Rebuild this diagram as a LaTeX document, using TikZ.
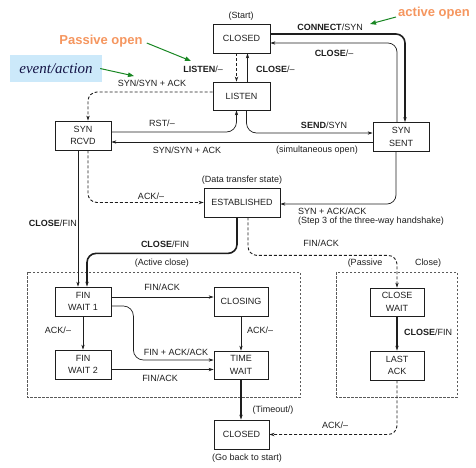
\documentclass[tikz,border=0pt]{standalone}
\usepackage{fontspec}
\setmainfont{Liberation Sans}
\newfontfamily\serifit{Liberation Serif}
\usetikzlibrary{arrows.meta}
\definecolor{ink}{RGB}{30,30,30}
\definecolor{orangetxt}{RGB}{245,150,95}
\definecolor{greenarr}{RGB}{25,135,35}
\definecolor{bluebg}{RGB}{204,233,250}
\definecolor{navy}{RGB}{20,20,70}
\definecolor{boxgray}{RGB}{90,90,90}
\begin{document}
\begin{tikzpicture}[x=1pt,y=-1pt,
  state/.style={draw=ink, line width=0.8pt, minimum width=56pt, minimum height=29pt, inner sep=1pt, align=center, font=\fontsize{9}{12.5}\selectfont, text=ink},
  lbl/.style={font=\fontsize{9}{10}\selectfont, text=ink, inner sep=0pt},
  tr/.style={draw=ink, line width=0.7pt, -{Stealth[length=5pt,width=3.4pt]}},
  trk/.style={tr, line width=1.6pt},
  dsh/.style={tr, line width=0.9pt, dash pattern=on 3pt off 2pt},
  group/.style={draw=boxgray, line width=0.6pt, dash pattern=on 2.5pt off 1.5pt},
  greenar/.style={draw=greenarr, line width=1pt, -{Triangle[length=6pt,width=4.5pt]}},
  callout/.style={font=\bfseries\fontsize{13}{14}\selectfont, text=orangetxt, inner sep=0pt}
]
\useasboundingbox (0,0) rectangle (476,467);

% group boxes
\draw[group] (27,272) rectangle (300,397);
\draw[group] (336,272) rectangle (457,397);

% states
\node[state, minimum width=57pt] (closedt) at (241.5,38.5) {CLOSED};
\node[state, minimum width=57pt, minimum height=28pt] (listen) at (241.5,96) {LISTEN};
\node[state] (synrcvd) at (83,135.5) {SYN\\RCVD};
\node[state] (synsent) at (401,137) {SYN\\SENT};
\node[state, minimum width=76pt] (estab) at (242,202.5) {ESTABLISHED};
\node[state] (finwait1) at (83,301.5) {FIN\\WAIT 1};
\node[state, minimum width=54pt] (closing) at (241,301.5) {CLOSING};
\node[state] (finwait2) at (83,364.5) {FIN\\WAIT 2};
\node[state, minimum width=54pt, minimum height=28pt] (timewait) at (241,365) {TIME\\WAIT};
\node[state, minimum width=55pt] (closedb) at (241.5,434.5) {CLOSED};
\node[state, minimum width=54pt, minimum height=28pt] (closewait) at (397,302) {CLOSE\\WAIT};
\node[state, minimum width=54pt] (lastack) at (397,365.5) {LAST\\ACK};

% transitions
\draw[trk, rounded corners=9pt] ([yshift=4.5pt]closedt.east) -| ([xshift=4pt]synsent.north);
\draw[tr, rounded corners=9pt] ([xshift=-4pt]synsent.north) |- ([yshift=-4.5pt]closedt.east);
\draw[dsh] ([xshift=-5pt]closedt.south) -- ([xshift=-5pt]listen.north);
\draw[tr] ([xshift=6pt]listen.north) -- ([xshift=6pt]closedt.south);
\draw[dsh, rounded corners=9pt] ([yshift=4pt]listen.west) -| ([xshift=5pt]synrcvd.north);
\draw[tr, rounded corners=10pt] ([yshift=3.5pt]synrcvd.east) -| ([xshift=-5pt]listen.south);
\draw[tr, rounded corners=10pt] ([xshift=5pt]listen.south) |- ([yshift=4pt]synsent.west);
\draw[tr] ([yshift=-5pt]synsent.west) -- ([yshift=-5pt]synsent.west -| synrcvd.east);
\draw[dsh, rounded corners=9pt] ([xshift=5pt]synrcvd.south) |- (estab.west);
\draw[tr, rounded corners=9pt] ([xshift=-5pt]synsent.south) |- ([yshift=-1.5pt]estab.east);
\draw[tr] ([xshift=-5pt]synrcvd.south) -- ([xshift=-5pt]finwait1.north);
\draw[trk, rounded corners=9pt] ([xshift=-5pt]estab.south) -- ++(0,36) -| ([xshift=4pt]finwait1.north);
\draw[dsh, rounded corners=9pt] ([xshift=6pt]estab.south) -- ++(0,38) -| (closewait.north);
\draw[trk] (closewait.south) -- (lastack.north);
\draw[dsh, rounded corners=9pt] (lastack.south) |- (closedb.east);
\draw[tr] ([yshift=4.5pt]finwait1.east) -- ([yshift=4.5pt]finwait1.east -| closing.west);
\draw[tr, rounded corners=10pt] ([yshift=-4.5pt]finwait1.east) -- ++(22,0) |- ([yshift=5pt]timewait.west);
\draw[tr] (closing.south) -- (closing.south |- timewait.north);
\draw[tr] (finwait1.south) -- (finwait2.north);
\draw[trk] ([yshift=-5pt]finwait2.east) -- ([yshift=-5pt]finwait2.east -| timewait.west);
\draw[trk] (timewait.south) -- (timewait.south |- closedb.north);

% labels
\node[lbl] (lstart) at (241,16) {(Start)};
\node[lbl] (lconnect) at (330,27) {\textbf{CONNECT}/SYN};
\node[lbl] (lclose1) at (334,53) {\textbf{CLOSE}/--};
\node[lbl, anchor=east] (llisten) at (223,69) {\textbf{LISTEN}/--};
\node[lbl, anchor=west] (lclose2) at (256,69) {\textbf{CLOSE}/--};
\node[lbl] (lsynsyn1) at (152,83) {SYN/SYN + ACK};
\node[lbl] (lrst) at (162,123) {RST/--};
\node[lbl] (lsend) at (324,125) {\textbf{SEND}/SYN};
\node[lbl] (lsynsyn2) at (187,150.5) {SYN/SYN + ACK};
\node[lbl] (lsimul) at (317,150.5) {(simultaneous open)};
\node[lbl] (ldata) at (242,180) {(Data transfer state)};
\node[lbl] (lack1) at (151,196) {ACK/--};
\node[lbl, anchor=west] (lsynack) at (298,211) {SYN + ACK/ACK};
\node[lbl, anchor=west] (lstep) at (298,221) {(Step 3 of the three-way handshake)};
\node[lbl, anchor=east] (lclosefin1) at (77,223) {\textbf{CLOSE}/FIN};
\node[lbl] (lclosefin2) at (165,244) {\textbf{CLOSE}/FIN};
\node[lbl] (lactive) at (162,263) {(Active close)};
\node[lbl] (lfinack1) at (321,243) {FIN/ACK};
\node[lbl] (lpassive) at (365,263) {(Passive};
\node[lbl] (lpclose) at (428,263) {Close)};
\node[lbl] (lfinack2) at (162,287) {FIN/ACK};
\node[lbl] (lack2) at (58,330) {ACK/--};
\node[lbl, anchor=west] (lack3) at (247,330) {ACK/--};
\node[lbl, anchor=west] (lclosefin3) at (404,332) {\textbf{CLOSE}/FIN};
\node[lbl] (lfinackack) at (176,352) {FIN + ACK/ACK};
\node[lbl] (lfinack3) at (160,378) {FIN/ACK};
\node[lbl] (ltimeout) at (273,410) {(Timeout/)};
\node[lbl] (lack4) at (335,425) {ACK/--};
\node[lbl] (lgoback) at (247,458) {(Go back to start)};

% annotations
\node[fill=bluebg, minimum width=92pt, minimum height=27pt, inner sep=0pt, font=\serifit\itshape\fontsize{15}{16}\selectfont, text=navy] (evt) at (56,68.5) {event/action};
\node[callout] (popen) at (101,41) {Passive open};
\node[callout] (aopen) at (434,13) {active open};
\coordinate (ga1) at (134,76);
\coordinate (ga2) at (191,61);
\coordinate (ga3) at (370,24);
\draw[greenar] ([xshift=-2pt]evt.east) -- (ga1);
\draw[greenar] ([xshift=4pt,yshift=-2pt]popen.east) -- (ga2);
\draw[greenar] ([xshift=-2pt,yshift=-4pt]aopen.west) -- (ga3);
\end{tikzpicture}
\end{document}
